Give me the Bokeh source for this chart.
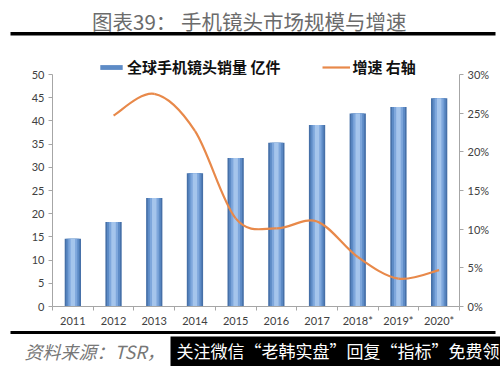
from bokeh.plotting import figure
from bokeh.models import (Range1d, LinearAxis, FixedTicker, NumeralTickFormatter,
                          Label, BoxAnnotation, Legend, LegendItem)
from bokeh.embed import file_html
from bokeh.resources import INLINE

# ---- data ----
years = ["2011", "2012", "2013", "2014", "2015", "2016", "2017", "2018*", "2019*", "2020*"]
sales = [14.6, 18.2, 23.4, 28.7, 32.0, 35.3, 39.1, 41.6, 43.0, 44.9]
growth_years = ["2012", "2013", "2014", "2015", "2016", "2017", "2018*", "2019*", "2020*"]
growth = [0.247, 0.275, 0.227, 0.114, 0.101, 0.110, 0.064, 0.036, 0.047]
left_ticks = [0, 5, 10, 15, 20, 25, 30, 35, 40, 45, 50]
right_ticks = [0, 0.05, 0.10, 0.15, 0.20, 0.25, 0.30]
title_text = "图表39：  手机镜头市场规模与增速"
bar_label = "全球手机镜头销量 亿件"
line_label = "增速 右轴"
source_text = "资料来源：TSR，"
banner_text = "关注微信“老韩实盘”回复“指标”免费领"

AX = "#a6a6a6"
TXT = "#404040"
ORANGE = "#E8894A"

# ---- canvas geometry (px) ----
W, H = 500, 366
PL, PR, PT, PB = 52, 459, 74, 306          # where the axes sit on the canvas
NCAT = len(years)
ux = (PR - PL) / NCAT                        # px per category
uy = (PB - PT) / 50.0                        # px per left-axis unit
x_lo = -0.5 - PL / ux
x_hi = NCAT - 0.5 + (W - PR) / ux
y_lo = -(H - PB) / uy
y_hi = 50 + PT / uy
k = 0.30 / 50.0


def dx(px):   # canvas px (from left) -> data x
    return x_lo + px / ux


def dy(py):   # canvas px (from top) -> data y
    return y_hi - py / uy


xs = list(range(NCAT))
gx = [years.index(y) for y in growth_years]

p = figure(width=W, height=H, output_backend="svg", toolbar_location=None,
           x_range=Range1d(x_lo, x_hi), y_range=Range1d(y_lo, y_hi),
           x_axis_type=None, y_axis_type=None, min_border=0)
p.extra_y_ranges = {"pct": Range1d(y_lo * k, y_hi * k)}
p.outline_line_color = None
p.xgrid.visible = False
p.ygrid.visible = False

# ---- bars (layered for a cylinder-like shading) ----
layers = [(0.40, "#4670a8"), (0.32, "#5d8bc6"), (0.22, "#7ea7dc"), (0.11, "#a5c5ec")]
bar_renderers = []
for w, c in layers:
    bar_renderers.append(p.vbar(x=xs, top=sales, width=w, fill_color=c, line_color=None))

# ---- smoothed growth line: Bezier segments through the data points ----
n = len(gx)
x0, y0, x1, y1, cx0, cy0, cx1, cy1 = [], [], [], [], [], [], [], []
for i in range(n - 1):
    pa = (gx[max(i - 1, 0)], growth[max(i - 1, 0)])
    pb = (gx[i], growth[i])
    pc = (gx[i + 1], growth[i + 1])
    pd = (gx[min(i + 2, n - 1)], growth[min(i + 2, n - 1)])
    x0.append(pb[0]); y0.append(pb[1]); x1.append(pc[0]); y1.append(pc[1])
    cx0.append(pb[0] + (pc[0] - pa[0]) / 6); cy0.append(pb[1] + (pc[1] - pa[1]) / 6)
    cx1.append(pc[0] - (pd[0] - pb[0]) / 6); cy1.append(pc[1] - (pd[1] - pb[1]) / 6)
p.bezier(x0=x0, y0=y0, x1=x1, y1=y1, cx0=cx0, cy0=cy0, cx1=cx1, cy1=cy1,
         line_color=ORANGE, line_width=2.2, y_range_name="pct")
legend_line = p.line(x=gx[:1], y=growth[:1], line_color=ORANGE, line_width=2.2,
                     y_range_name="pct")


# ---- axes (fixed inside the full-canvas frame) ----
def style_axis(ax):
    ax.axis_line_color = AX
    ax.major_tick_line_color = AX
    ax.minor_tick_line_color = None
    ax.major_tick_in = 0
    ax.major_tick_out = 4
    ax.major_label_text_font = "Lato"
    ax.major_label_text_font_size = "11px"
    ax.major_label_text_color = TXT
    ax.major_label_standoff = 4


yl = LinearAxis(ticker=FixedTicker(ticks=left_ticks), bounds=(0, 50), fixed_location=-0.5)
style_axis(yl)
p.add_layout(yl, "left")

yr = LinearAxis(y_range_name="pct", ticker=FixedTicker(ticks=right_ticks),
                formatter=NumeralTickFormatter(format="0%"), bounds=(0, 0.30),
                fixed_location=NCAT - 0.5)
style_axis(yr)
p.add_layout(yr, "right")

xa = LinearAxis(ticker=FixedTicker(ticks=xs, minor_ticks=[i - 0.5 for i in range(NCAT + 1)]),
                bounds=(-0.5, NCAT - 0.5), fixed_location=0)
style_axis(xa)
xa.major_label_overrides = {i: y for i, y in enumerate(years)}
xa.major_tick_out = 0
xa.minor_tick_line_color = AX
xa.minor_tick_in = 0
xa.minor_tick_out = 4
xa.major_label_standoff = 3
p.add_layout(xa, "below")

# ---- legend ----
legend = Legend(items=[LegendItem(label=bar_label, renderers=[bar_renderers[1]]),
                       LegendItem(label=line_label, renderers=[legend_line])],
                location=(97, H - 77), orientation="horizontal",
                glyph_width=28, glyph_height=6, label_standoff=2, spacing=42,
                label_height=20, padding=0, margin=0, border_line_color=None,
                background_fill_alpha=0,
                label_text_font="Noto Sans CJK SC", label_text_font_size="15px",
                label_text_font_style="bold", label_text_color="#111111")
p.add_layout(legend)


# ---- title, rules, footer (positions given in canvas px, converted to data) ----
def box(left, right, top, bottom, color="black"):
    p.add_layout(BoxAnnotation(left=dx(left), right=dx(right), top=dy(top), bottom=dy(bottom),
                               fill_color=color, fill_alpha=1, line_color=None))


def text(px, py, s, **kw):
    p.add_layout(Label(x=dx(px), y=dy(py), text=s, text_baseline="middle",
                       text_font="Noto Sans CJK SC", **kw))


text(251, 20, title_text, text_align="center", text_font_size="20.5px", text_color="#6b6b6b")
box(10, 495, 31.5, 35)          # rule under the title
box(10, 495, 330.5, 333.5)      # rule above the source line
box(170, W + 5, 336, H + 5)     # black banner
text(24, 350, source_text, text_font_style="italic", text_font_size="18px", text_color="#777777")
text(176, 350, banner_text, text_font_size="17px", text_color="white")

open("out.html", "w").write(file_html(p, INLINE))
